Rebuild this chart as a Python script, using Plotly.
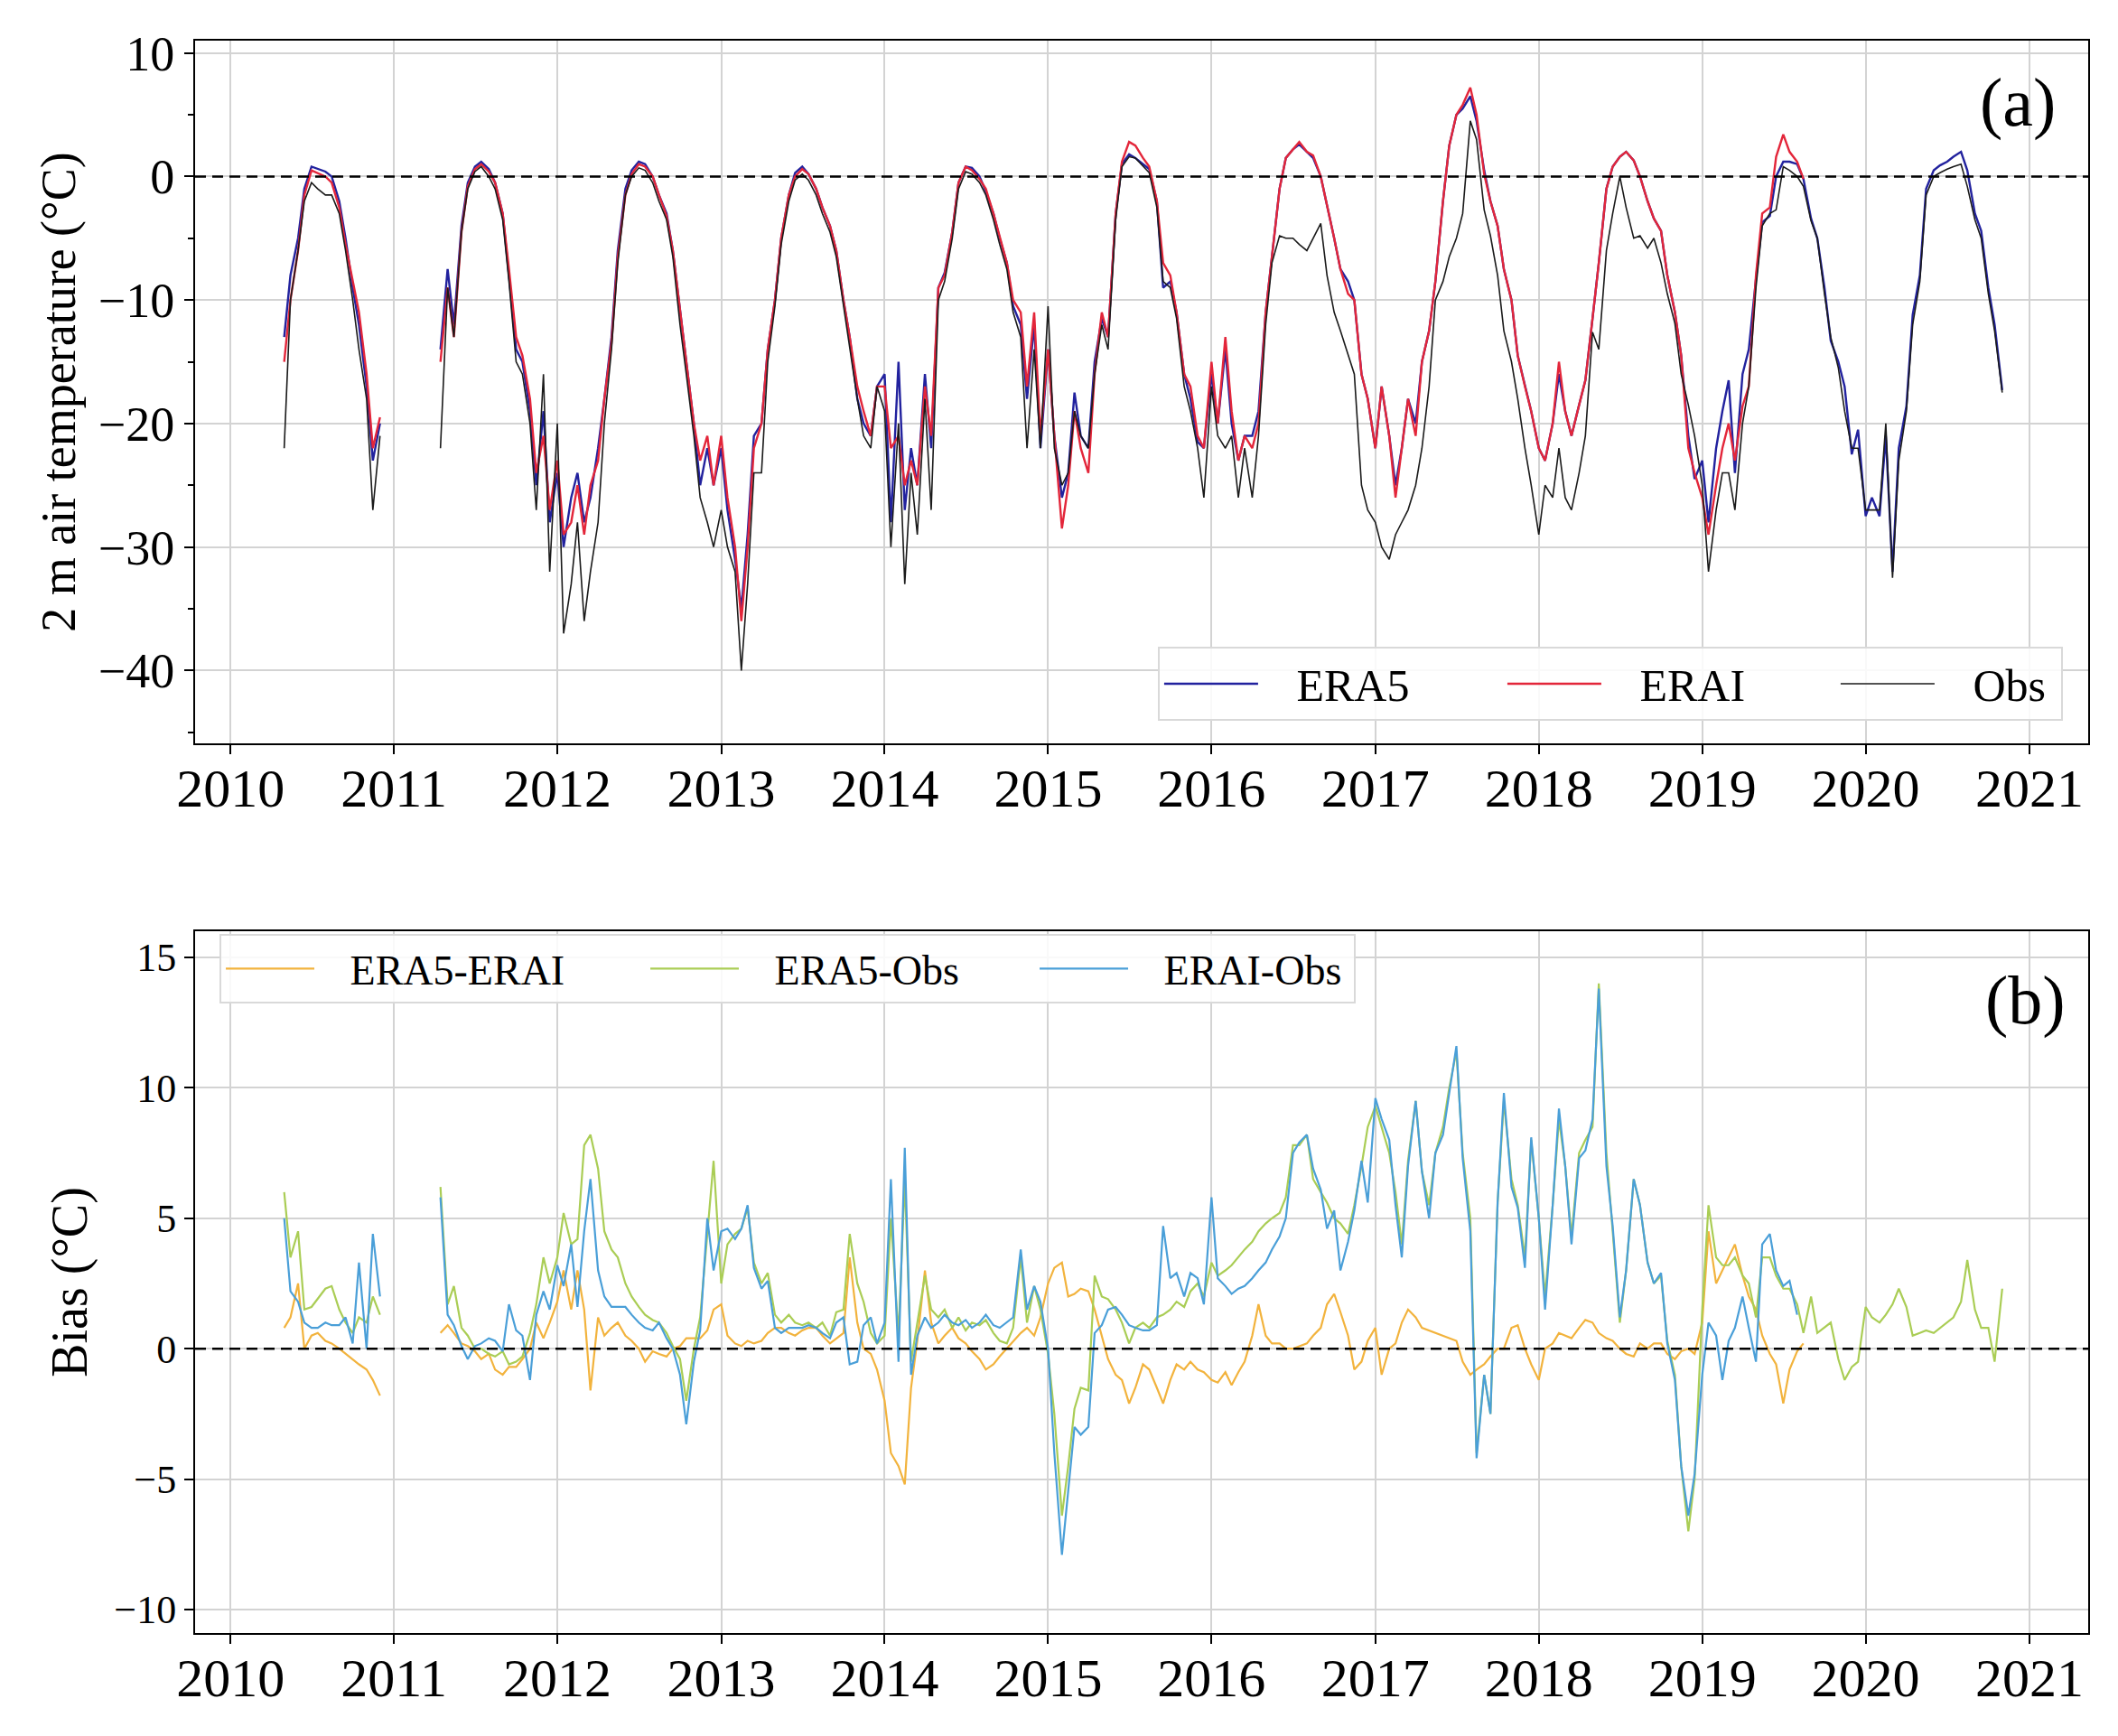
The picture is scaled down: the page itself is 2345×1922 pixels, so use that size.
import plotly.graph_objects as go
from plotly.subplots import make_subplots

NA = None
YEARS = list(range(2010, 2021))
# one value per half month (1st and 15th), 24 per year
DATES = [f"{y}-{m:02d}-{d:02d}" for y in YEARS for m in range(1, 13) for d in (1, 15)]

# (a) 2 m air temperature, deg C
ERA5 = [
    *[NA] * 8, -13, -8, -5, -1, 0.8, 0.6, 0.4, 0, -2, -5, -9, -12, -17, -23, -20, NA,
    *[NA] * 7, -14, -7.5, -12, -4, -0.5, 0.8, 1.2, 0.6, -0.5, -3, -8, -14, -15, -19, -25, -19, -28,
    -24, -30, -26, -24, -28, -26, -22, -18, -13, -6, -1, 0.5, 1.2, 1, 0, -1.5, -3, -6, -11, -15, -20, -25, -22, -25,
    -22, -27, -31, -35, -29, -21, -20, -14, -10, -5, -1.5, 0.3, 0.8, 0.2, -1, -2.5, -4, -6, -10, -13, -18, -20, -21, -17,
    -16, -28, -15, -27, -22, -25, -16, -22, -9, -7.8, -4.5, -0.5, 0.8, 0.7, 0, -1.2, -3, -5, -7, -10.5, -12, -18, -12, -22,
    -14, -21, -26, -24, -17.5, -21, -22, -15, -11.5, -13, -3, 1, 1.8, 1.5, 1, 0.6, -2, -9, -8.5, -11, -16, -18, -21.5, -22,
    -16, -20, -14, -20, -23, -21, -21, -19, -11, -6.5, -1, 1.5, 2.2, 2.6, 2, 1.5, 0, -2.3, -5, -7.5, -8.5, -10, -16, -18,
    -22, -17, -21, -25, -22, -18, -20, -15, -12.5, -8.5, -2, 2.5, 5, 5.5, 6.5, 4.5, 0.5, -2, -4, -7.5, -10, -14.5, -17, -19,
    -22, -23, -20, -16, -19, -21, -18.5, -16.5, -11.5, -7, -1, 0.8, 1.6, 2, 1.3, 0, -2, -3.4, -4.4, -8, -11, -14.5, -21, -24.5,
    -23, -28, -22, -19, -16.5, -24, -16, -14, -8.3, -3.7, -3.2, 0, 1.2, 1.2, 1, -0.2, -3.4, -5, -9, -13.3, -15, -17, -22.5, -20.5,
    -27.5, -26, -27.5, -21, -32, -22, -18.6, -11.2, -8, -1, 0.5, 0.9, 1.2, 1.6, 2, 0.5, -3, -4.4, -9, -12, -17.3, NA, NA, NA,
]
ERAI = [
    *[NA] * 8, -15, -10, -6, -1.5, 0.5, 0.3, 0, -0.5, -2.5, -5.5, -8.5, -11, -16, -22, -19.5, NA,
    *[NA] * 7, -15, -9, -13, -4.5, -0.8, 0.6, 1, 0.4, -0.5, -3, -7.5, -13, -14.5, -18, -24, -21, -27,
    -23, -29, -28, -25, -29, -25, -23, -18, -13.5, -6.5, -1.5, 0.2, 1, 0.8, 0, -1.5, -3.2, -6, -11, -15, -20, -23, -21, -25,
    -21, -26, -30, -36, -30, -22, -20, -14, -10, -5, -1.5, 0, 0.6, 0.2, -1, -2.5, -4, -6, -10, -13, -17, -19, -21, -17,
    -17, -22, -21, -25, -23, -25, -17, -21, -9, -8, -4.5, -0.5, 0.8, 0.5, -0.2, -1, -3, -4.8, -7, -10, -11, -17, -11, -21,
    -14, -21, -28.5, -25, -19, -22, -24, -16, -11, -13, -3, 1.2, 2.8, 2.5, 1.5, 0.8, -2, -7, -8, -11, -16, -17, -21, -22,
    -15, -20, -13, -19, -23, -21, -22, -20, -11, -6.5, -1, 1.5, 2.2, 2.8, 2, 1.7, 0, -2.3, -5, -7.5, -9.5, -10, -16, -18,
    -22, -17, -21, -26, -22, -18, -21, -15, -12.5, -8.5, -2, 2.5, 5, 5.8, 7.2, 5, 0.2, -2, -4, -7.5, -10, -14.5, -17, -19,
    -22, -23, -20, -15, -19, -21, -18.5, -16.5, -11.5, -7, -1, 0.8, 1.6, 2, 1.3, 0, -2, -3.4, -4.4, -8, -11, -14.5, -22, -24,
    -26, -29, -25, -22, -20, -23, -18.6, -17, -8, -3, -2.5, 1.6, 3.4, 2, 1.2, -0.2, *[NA] * 8,
    *[NA] * 24,
]
OBS = [
    *[NA] * 8, -22, -10, -6, -2, -0.5, -1, -1.5, -1.5, -3, -6, -10, -14, -18, -27, -21, NA,
    *[NA] * 7, -22, -9, -13, -4.5, -1, 0.4, 0.8, 0, -1, -3.5, -8.5, -15, -16, -20, -27, -16, -32,
    -20, -37, -33, -28, -36, -32, -28, -20, -14, -7, -1.5, 0, 0.7, 0.5, -0.5, -2, -3.5, -6.5, -12, -16, -21, -26, -28, -30,
    -27, -30, -32, -40, -33, -24, -24, -15, -10.5, -5.5, -2, -0.3, 0.2, -0.3, -1.5, -3, -4.5, -6.5, -10.5, -14, -18, -21, -22, -17,
    -19, -30, -20, -33, -24, -29, -18, -27, -10, -8.5, -5, -1, 0.4, 0.2, -0.5, -1.5, -3.5, -5.5, -7.5, -11, -13, -22, -14, -22,
    -10.5, -22, -25, -24, -19, -21, -22, -16, -12, -14, -3.5, 0.8, 1.6, 1.5, 0.8, 0.3, -2.5, -8.5, -9, -11.5, -17, -19, -22, -26,
    -17, -21, -22, -21, -26, -22, -26, -21, -12, -7, -4.8, -5, -5, -5.5, -6, -5, -3.8, -8, -11, -12.5, -14.5, -16, -25, -27,
    -28, -30, -31, -29, -28, -27, -25, -22, -17, -10, -8.5, -6.5, -5, -3, 4.5, 3, -2.7, -4.8, -8, -12.5, -15, -18, -22, -25,
    -29, -25, -26, -22, -26, -27, -24, -21, -12.6, -14, -6, -3, 0, -2.5, -5, -4.8, -5.8, -5, -7, -9.5, -11.9, -16, -18.5, -21,
    -25, -32, -27, -24, -24, -27, -20, -17, -9, -4, -3, -2.7, 0.8, 0.5, 0, -0.8, -3.6, -5, -9.5, -13, -15.5, -19, -22, -22,
    -27, -27, -27, -20, -32.5, -23, -19, -12, -8.5, -1.5, 0, 0.3, 0.6, 0.8, 1, -0.8, -3.5, -5, -9.5, -12.5, -17.5, NA, NA, NA,
]

# (b) bias, deg C
ERA5_ERAI = [
    *[NA] * 8, 0.8, 1.2, 2.5, 0, 0.5, 0.6, 0.3, 0.2, 0, -0.2, -0.4, -0.6, -0.8, -1.2, -1.8, NA,
    *[NA] * 7, 0.6, 0.9, 0.6, 0.2, 0.1, -0.1, -0.4, -0.2, -0.8, -1, -0.7, -0.7, -0.4, 0, 1, 0.4, 1,
    1.8, 3, 1.5, 3, 1.5, -1.6, 1.2, 0.5, 0.8, 1, 0.5, 0.3, 0, -0.5, -0.1, -0.2, -0.3, 0, 0.1, 0.4, 0.4, 0.4, 0.7, 1.5,
    1.7, 0.5, 0.2, 0.1, 0.3, 0.2, 0.3, 0.6, 0.8, 0.8, 0.6, 0.5, 0.7, 0.8, 0.8, 0.5, 0.2, 0.4, 0.6, 3.5, 1, 0, -0.2, -0.8,
    -2, -4, -4.5, -5.2, -1.5, 0.3, 3, 1, 0.2, 0.5, 0.8, 0.4, 0.2, -0.1, -0.4, -0.8, -0.6, -0.3, 0, 0.3, 0.6, 0.8, 0.5, 1.2,
    2.5, 3.1, 3.3, 2, 2.1, 2.3, 2.2, 1.5, 0.5, -0.4, -1, -1.2, -2.1, -1.5, -0.6, -0.8, -1.5, -2.1, -1.2, -0.6, -0.8, -0.5, -0.8, -0.9,
    -1.2, -1.3, -0.9, -1.4, -0.9, -0.5, 0.5, 1.7, 0.5, 0.2, 0.2, 0, 0, 0.1, 0.2, 0.5, 0.8, 1.7, 2.1, 1.4, 0.5, -0.8, -0.5, 0.3,
    0.8, -1, 0, 0.2, 1, 1.5, 1.2, 0.8, 0.7, 0.6, 0.5, 0.4, 0.3, -0.5, -1, -0.8, -0.6, -0.3, 0, 0, 0.8, 0.9, 0, -0.6,
    -1.2, 0, 0.2, 0.6, 0.5, 0.4, 0.8, 1.1, 1, 0.6, 0.4, 0.3, 0, -0.2, -0.3, 0.2, 0, 0.2, 0.2, -0.2, -0.4, -0.1, 0, -0.2,
    1, 4.5, 2.5, 3, 3.5, 4, 2.8, 2, 1.5, 0.5, -0.2, -0.6, -2.1, -0.8, -0.1, 0.2, *[NA] * 8,
    *[NA] * 24,
]
ERA5_OBS = [
    *[NA] * 8, 6, 3.5, 4.5, 1.5, 1.6, 1.9, 2.3, 2.4, 1.5, 1, 0.6, 1.2, 1, 2, 1.3, NA,
    *[NA] * 7, 6.2, 1.7, 2.4, 0.8, 0.5, 0, 0, -0.2, -0.3, -0.1, -0.6, -0.5, -0.3, 0.6, 1.7, 3.5, 2.5,
    3.5, 5.2, 4, 4.2, 7.8, 8.2, 6.9, 4.5, 3.8, 3.5, 2.5, 2, 1.6, 1.3, 1.1, 1, 0.6, 0.1, -0.4, -2, 0, 1.2, 4.5, 7.2,
    2.5, 4, 4.4, 4.6, 5.4, 3.3, 2.5, 2.9, 1.3, 1, 1.3, 1, 0.9, 1, 0.8, 1, 0.5, 1.4, 1.5, 4.4, 2.5, 1.8, 0.6, 0.2,
    0.5, 5, 0.5, 6.5, -0.5, 1, 2.8, 1.5, 1.2, 1.5, 0.8, 1.2, 0.7, 1, 0.9, 1.1, 0.6, 0.3, 0.2, 0.8, 3.5, 1, 2.4, 1.5,
    -0.2, -2.5, -6.4, -4.5, -2.3, -1.5, -1.6, 2.8, 2, 1.9, 1.5, 1, 0.2, 0.8, 1, 0.8, 1.2, 1.3, 1.5, 1.8, 1.6, 2.2, 2.5, 2,
    3.3, 2.8, 3, 3.2, 3.5, 3.8, 4.1, 4.5, 4.8, 5, 5.2, 5.8, 7.8, 7.8, 8.2, 6.5, 6, 5.6, 5, 4.8, 4.4, 5.5, 7, 8.5,
    9.3, 8.5, 7.5, 6, 4, 7.2, 9.5, 6.8, 5.5, 7.5, 8.5, 10, 11.4, 7.5, 5, -4, -1, -2.5, 5.6, 9.5, 6.5, 5.5, 3.5, 8,
    5, 2, 5.5, 8.8, 7, 4.3, 7.5, 8, 8.5, 14, 7.5, 4.5, 1, 3, 6.5, 5.5, 3.3, 2.5, 2.8, 0.3, -1, -4.5, -7, -5,
    1.5, 5.5, 3.5, 3.2, 3.2, 3.5, 2.8, 2.5, 1.2, 3.5, 3.5, 2.8, 2.3, 2.3, 1.7, 0.6, 2, 0.6, 0.8, 1, -0.4, -1.2, -0.7, -0.5,
    1.6, 1.2, 1, 1.3, 1.7, 2.3, 1.6, 0.5, 0.6, 0.7, 0.6, 0.8, 1, 1.2, 1.8, 3.4, 1.5, 0.8, 0.8, -0.5, 2.3, NA, NA, NA,
]
ERAI_OBS = [
    *[NA] * 8, 5, 2.2, 1.8, 1, 0.8, 0.8, 1, 0.9, 0.9, 1.2, 0.2, 3.3, 0, 4.4, 2, NA,
    *[NA] * 7, 5.8, 1.3, 0.9, 0.1, -0.4, 0.1, 0.2, 0.4, 0.3, -0.1, 1.7, 0.7, 0.5, -1.2, 1.3, 2.2, 1.5,
    3.2, 2.4, 4, 1.6, 4.5, 6.5, 3, 2, 1.6, 1.6, 1.6, 1.3, 1, 0.8, 0.7, 1, 0.4, 0, -1, -2.9, -0.5, 0.7, 5, 3,
    4.5, 4.6, 4.2, 4.6, 5.5, 3.1, 2.3, 2.6, 0.8, 0.6, 0.8, 0.8, 0.8, 0.9, 0.8, 0.6, 0.4, 1, 1.2, -0.6, -0.5, 0.9, 1.2, 0.2,
    1, 6.5, -0.5, 7.7, -1, 0.5, 1.2, 0.8, 1, 1.3, 1, 0.9, 1.1, 0.8, 1, 1.3, 0.9, 0.8, 1, 1.2, 3.8, 1.5, 2.4, 1.8,
    0, -4, -7.9, -5.5, -3, -3.3, -3, 0.6, 0.9, 1.5, 1.6, 1.3, 0.9, 0.8, 0.7, 0.7, 0.9, 4.7, 2.7, 2.9, 2, 2.9, 2.7, 1.7,
    5.8, 2.7, 2.4, 2.1, 2.3, 2.4, 2.7, 3, 3.3, 3.8, 4.3, 5, 7.5, 7.9, 8.2, 6.9, 6.1, 4.6, 5.3, 3, 4.1, 5.3, 7.2, 5.6,
    9.6, 8.8, 8, 5.5, 3.5, 7, 9.5, 6.8, 5, 7.5, 8.2, 9.8, 11.6, 7.3, 4.5, -4.2, -1, -2.5, 5.6, 9.8, 6.2, 5.4, 3.1, 8.1,
    5, 1.5, 5.5, 9.2, 7, 4, 7.3, 7.6, 8.8, 13.8, 7, 4.7, 1.2, 3, 6.5, 5.5, 3.3, 2.5, 2.9, 0.2, -1.2, -4.5, -6.4, -4.8,
    -1, 1, 0.5, -1.2, 0.3, 0.8, 2, 0.8, -0.5, 4, 4.4, 3, 2.4, 2.6, 1.3, *[NA] * 9,
    *[NA] * 24,
]

FONT = "Liberation Serif"
PAD = "\u00a0" * 3  # gap between legend line and label, as in matplotlib

fig = make_subplots(rows=2, cols=1)

top = [("ERA5", ERA5, "#22229e", 2.4, 261), ("ERAI", ERAI, "#e3263a", 2.4, 250),
       ("Obs", OBS, "#1a1a1a", 1.6, 130)]
for name, vals, color, w, lw in top:
    fig.add_trace(go.Scatter(x=DATES, y=vals, mode="lines", name=PAD + name,
                             line=dict(color=color, width=w), legend="legend",
                             legendwidth=lw), row=1, col=1)

bottom = [("ERA5-ERAI", ERA5_ERAI, "#f2b33d", 357), ("ERA5-Obs", ERA5_OBS, "#aacd55", 318),
          ("ERAI-Obs", ERAI_OBS, "#4a9fd8", 240)]
for name, vals, color, lw in bottom:
    fig.add_trace(go.Scatter(x=DATES, y=vals, mode="lines", name=PAD + name,
                             line=dict(color=color, width=2.2), legend="legend2",
                             legendwidth=lw), row=2, col=1)

for r in (1, 2):
    fig.add_hline(y=0, line=dict(color="black", width=2.5, dash="12px,7px"), row=r, col=1)

axis_common = dict(showline=True, linecolor="black", linewidth=2, mirror=True,
                   ticks="outside", ticklen=10, tickwidth=2, tickcolor="black",
                   showgrid=True, gridcolor="#d3d3d3", gridwidth=1.5, zeroline=False)

fig.update_xaxes(**axis_common, range=["2009-10-14", "2021-05-12"], dtick="M12",
                 tick0="2010-01-01", tickformat="%Y", tickfont=dict(size=60),
                 ticklabelstandoff=-14)

fig.update_yaxes(**axis_common, row=1, col=1, range=[-45.9, 11.0], dtick=10,
                 domain=[0.5587, 1.0], tickfont=dict(size=54),
                 minor=dict(dtick=5, ticks="outside", ticklen=6, tickwidth=1.5,
                            tickcolor="black", showgrid=False),
                 title=dict(text="2 m air temperature (°C)", font=dict(size=54), standoff=8))
fig.update_yaxes(**axis_common, row=2, col=1, range=[-10.9, 16.0], dtick=5,
                 domain=[0.0, 0.4407], tickfont=dict(size=44),
                 title=dict(text="Bias (°C)", font=dict(size=56), standoff=12))

legend_style = dict(orientation="h", bgcolor="rgba(255,255,255,0.85)",
                    bordercolor="#d9d9d9", borderwidth=2, entrywidthmode="pixels")
fig.update_layout(
    width=2345, height=1922,
    margin=dict(l=208, r=41, t=37, b=122),
    plot_bgcolor="white", paper_bgcolor="white",
    font=dict(family=FONT, color="black"),
    showlegend=True,
    legend=dict(**legend_style, x=0.9866, y=0.5729, xanchor="right", yanchor="bottom",
                itemwidth=104, font=dict(size=50)),
    legend2=dict(**legend_style, x=0.0129, y=0.439, xanchor="left", yanchor="top",
                 itemwidth=98, font=dict(size=46)),
    annotations=[
        dict(text="(a)", x=0.963, y=0.961, xref="paper", yref="paper", showarrow=False,
             xanchor="center", yanchor="middle", font=dict(size=76, family=FONT)),
        dict(text="(b)", x=0.967, y=0.3976, xref="paper", yref="paper", showarrow=False,
             xanchor="center", yanchor="middle", font=dict(size=76, family=FONT)),
    ],
)

fig.write_html("out.html")
